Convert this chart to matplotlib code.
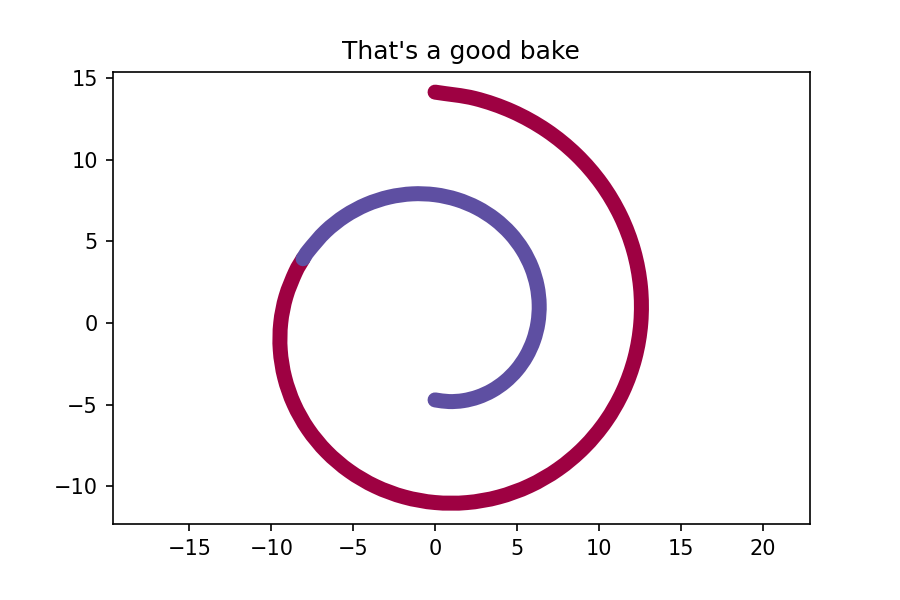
import matplotlib
matplotlib.use("Agg")
import matplotlib.pyplot as plt
import numpy as np
from matplotlib.path import Path
from matplotlib.patches import PathPatch

# points (outer arm, drawn in red)
RED_X = [-8.063, -8.529, -9.110, -9.425, -9.453, -9.184, -8.615, -7.755, -6.619,
         -5.236, -3.641, -1.879, 0.0, 1.940, 3.880, 5.760, 7.517, 9.091, 10.429,
         11.480, 12.204, 12.566, 12.547, 12.136, 11.336, 10.161, 8.638, 6.807,
         4.716, 2.425, 0.0]
RED_Y = [3.933, 3.104, 1.606, 0.0, -1.667, -3.343, -4.974, -6.507, -7.888,
         -9.069, -10.005, -10.657, -10.996, -11.000, -10.661, -9.976, -8.958,
         -7.629, -6.021, -4.178, -2.152, 0.0, 2.212, 4.417, 6.545, 8.526, 10.295,
         11.790, 12.956, 13.751, 14.137]

# inner arm, drawn in purple
BLUE_X = [0.0, 0.849, 1.731, 2.618, 3.478, 4.278, 4.988, 5.576, 6.016, 6.283,
          6.360, 6.232, 5.895, 5.348, 4.600, 3.665, 2.567, 1.333, 0.0, -1.394,
          -2.806, -4.189, -5.497, -6.685, -7.709, -8.063]
BLUE_Y = [-4.712, -4.813, -4.756, -4.534, -4.145, -3.590, -2.880, -2.030, -1.061,
          0.0, 1.121, 2.268, 3.403, 4.487, 5.482, 6.348, 7.052, 7.562, 7.854,
          7.907, 7.708, 7.255, 6.551, 5.610, 4.451, 3.933]

RED = "#9e0142"
BLUE = "#5e4fa2"


def smooth_curve(xs, ys):
    # catmull-rom through the read points, drawn as cubic beziers
    p = np.column_stack([xs, ys])
    p = np.vstack([2 * p[0] - p[1], p, 2 * p[-1] - p[-2]])
    verts, codes = [p[1]], [Path.MOVETO]
    for i in range(1, len(p) - 2):
        c1 = p[i] + (p[i + 1] - p[i - 1]) / 6
        c2 = p[i + 1] - (p[i + 2] - p[i]) / 6
        verts += [c1, c2, p[i + 1]]
        codes += [Path.CURVE4] * 3
    return Path(verts, codes)


fig = plt.figure(figsize=(6, 4), dpi=150)
ax = fig.add_axes([0.125, 0.1267, 0.775, 0.7533])
for xs, ys, c in [(RED_X, RED_Y, RED), (BLUE_X, BLUE_Y, BLUE)]:
    ax.add_patch(PathPatch(smooth_curve(xs, ys), fill=False, edgecolor=c,
                           lw=7.2, capstyle="round", joinstyle="round"))
ax.set_xlim(-19.7, 22.9)
ax.set_ylim(-12.31, 15.37)
ax.set_xticks([-15, -10, -5, 0, 5, 10, 15, 20])
ax.set_yticks([-10, -5, 0, 5, 10, 15])
ax.set_title("That's a good bake")
fig.savefig("out.png", dpi=150)
